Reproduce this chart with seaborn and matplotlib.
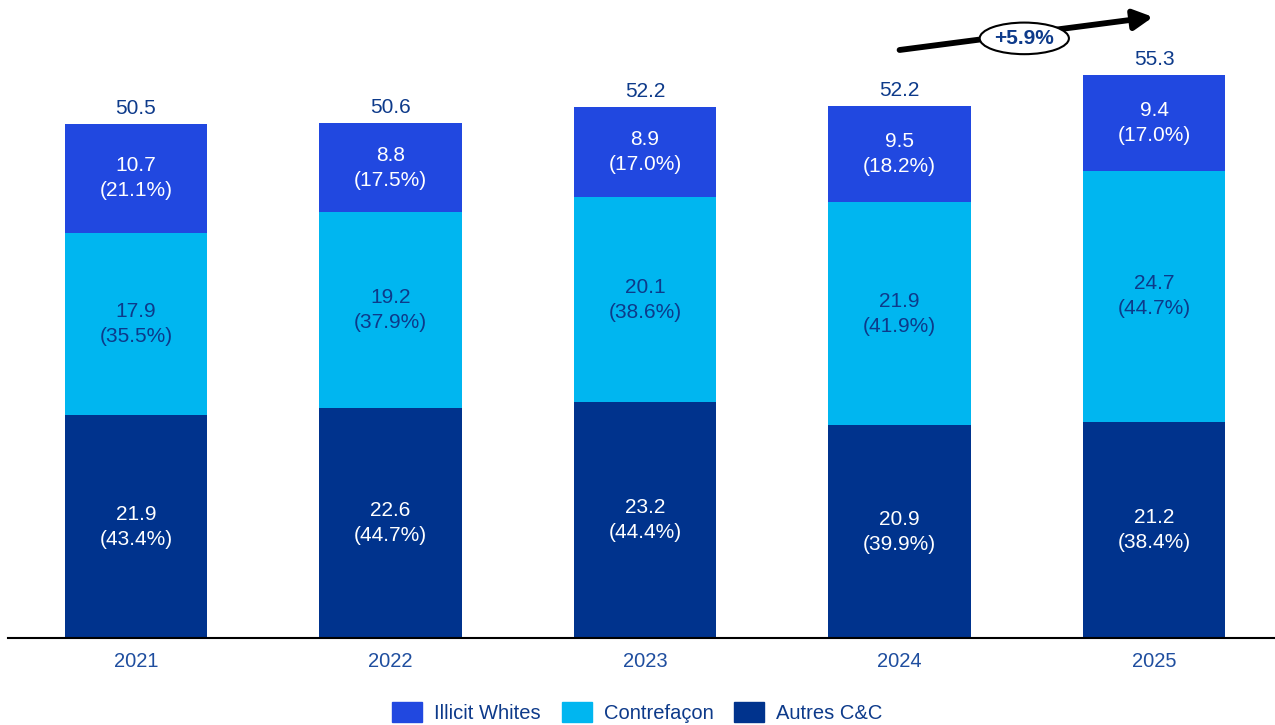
import matplotlib
matplotlib.use("Agg")
import matplotlib.pyplot as plt
import seaborn as sns
import pandas as pd
import numpy as np
from matplotlib.patches import Patch

years = ["2021", "2022", "2023", "2024", "2025"]
autres = [21.9, 22.6, 23.2, 20.9, 21.2]
contref = [17.9, 19.2, 20.1, 21.9, 24.7]
illicit = [10.7, 8.8, 8.9, 9.5, 9.4]
autres_pct = ["43.4%", "44.7%", "44.4%", "39.9%", "38.4%"]
contref_pct = ["35.5%", "37.9%", "38.6%", "41.9%", "44.7%"]
illicit_pct = ["21.1%", "17.5%", "17.0%", "18.2%", "17.0%"]
totals = [50.5, 50.6, 52.2, 52.2, 55.3]
growth_label = "+5.9%"

c_illicit = "#2148E0"
c_contref = "#00B6F0"
c_autres = "#00338D"
txt_blue = "#0D3A8A"
tick_blue = "#1F4E9F"

sns.set_theme(style="white")
plt.rcParams["font.family"] = ["Liberation Sans", "DejaVu Sans"]

df = pd.DataFrame({"year": years, "autres": autres, "contref": contref, "illicit": illicit})
df["c1"] = df["autres"]
df["c2"] = df["autres"] + df["contref"]
df["c3"] = df["c2"] + df["illicit"]

fig = plt.figure(figsize=(12.75, 7.25), dpi=100)
ax = fig.add_axes([8 / 1275, 87 / 725, 1267 / 1275, 638 / 725])

w = 0.56
sns.barplot(data=df, x="year", y="c3", color=c_illicit, width=w, saturation=1, ax=ax, linewidth=0)
sns.barplot(data=df, x="year", y="c2", color=c_contref, width=w, saturation=1, ax=ax, linewidth=0)
sns.barplot(data=df, x="year", y="c1", color=c_autres, width=w, saturation=1, ax=ax, linewidth=0)

label_colors = ["white", txt_blue, "white"]
for i in range(len(years)):
    lo = [0, df["c1"][i], df["c2"][i]]
    hi = [df["c1"][i], df["c2"][i], df["c3"][i]]
    vals = [autres[i], contref[i], illicit[i]]
    pcts = [autres_pct[i], contref_pct[i], illicit_pct[i]]
    for k in range(3):
        ax.text(i, (lo[k] + hi[k]) / 2, f"{vals[k]:.1f}\n({pcts[k]})", ha="center", va="center",
                color=label_colors[k], fontsize=15, linespacing=1.4)
    ax.annotate(f"{totals[i]:.1f}", (i, df["c3"][i]), xytext=(0, 4), textcoords="offset points",
                ha="center", va="bottom", color=txt_blue, fontsize=15)

ax.set_xlim(-0.503, 4.475)
ax.set_ylim(0, 62.67)
ax.set_xlabel("")
ax.set_ylabel("")
ax.set_yticks([])
for s in ["top", "right", "left"]:
    ax.spines[s].set_visible(False)
ax.spines["bottom"].set_color("black")
ax.spines["bottom"].set_linewidth(1.5)
ax.tick_params(axis="x", length=0, labelsize=14.5, labelcolor=tick_blue, pad=10)

# growth arrow
ax.annotate("", xy=(3.996, 61.0), xytext=(3.0, 57.76),
            arrowprops=dict(arrowstyle="-|>,head_length=0.95,head_width=0.5", lw=4.2, color="black",
                            shrinkA=0, shrinkB=0), annotation_clip=False)
ax.text(3.49, 58.9, growth_label, ha="center", va="center", fontsize=15, fontweight="bold",
        color=txt_blue,
        bbox=dict(boxstyle="ellipse,pad=0.08", fc="white", ec="black", lw=1.5), zorder=5)

handles = [Patch(color=c_illicit, label="Illicit Whites"),
           Patch(color=c_contref, label="Contrefaçon"),
           Patch(color=c_autres, label="Autres C&C")]
leg = fig.legend(handles=handles, loc="lower center", bbox_to_anchor=(0.5, -0.022), ncol=3,
                 frameon=False, fontsize=14.5, handlelength=1.47, handleheight=1.08,
                 columnspacing=1.05, handletextpad=0.6)
for t in leg.get_texts():
    t.set_color(txt_blue)

fig.savefig("out.png", dpi=100)
